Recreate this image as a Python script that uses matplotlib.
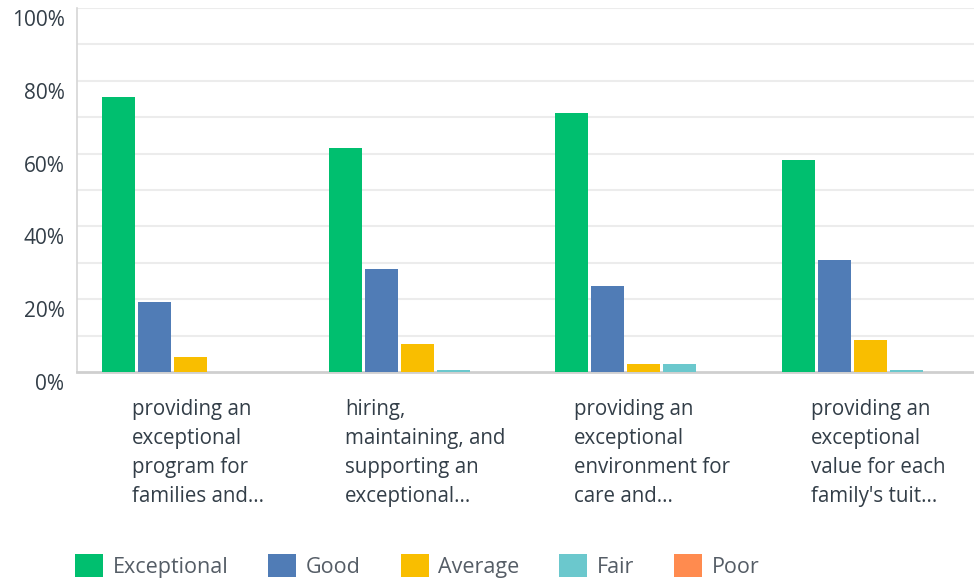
import numpy as np
import matplotlib
matplotlib.use("Agg")
import matplotlib.pyplot as plt
from matplotlib.patches import Patch
from matplotlib.transforms import ScaledTranslation

plt.rcParams['font.family'] = ['Open Sans', 'DejaVu Sans']

# ---- data (percent of responses) ----
questions = [
    "providing an\nexceptional\nprogram for\nfamilies and...",
    "hiring,\nmaintaining, and\nsupporting an\nexceptional...",
    "providing an\nexceptional\nenvironment for\ncare and...",
    "providing an\nexceptional\nvalue for each\nfamily's tuit...",
]
ratings = ["Exceptional", "Good", "Average", "Fair", "Poor"]
exceptional = [75.5, 61.5, 71.2, 58.2]
good = [19.2, 28.3, 23.6, 30.8]
average = [4.1, 7.7, 2.2, 8.8]
fair = [0.0, 0.5, 2.2, 0.5]
poor = [0.0, 0.0, 0.0, 0.0]

colors = ['#00bf6f', '#507cb6', '#f9be00', '#6bc8cd', '#ff8b4f']
series = [exceptional, good, average, fair, poor]

fig = plt.figure(figsize=(9.74, 5.82), dpi=100)
ax = fig.add_axes([77 / 974, 1 - 372 / 582, 1 - 77 / 974, 364 / 582])

band = 226.7  # pixels per category (plot runs off the right edge)
x = np.arange(len(questions))
step = 36 / band
width = 33 / band
for k, (vals, c) in enumerate(zip(series, colors)):
    ax.bar(x + (k - 2) * step, vals, width=width, color=c, zorder=3)

ax.set_xlim(-0.5, -0.5 + 897 / band)
ax.set_ylim(0, 100)

# grid every 10%, labels every 20%
for g in np.arange(10, 101, 10):
    ax.axhline(g, color='#ececec', lw=1.5, zorder=1)
ax.set_yticks(np.arange(0, 101, 20))
ax.set_yticklabels([f"{v}%" for v in range(0, 101, 20)])
ax.tick_params(axis='y', length=0, pad=9, labelsize=15, labelcolor='#333e48')
shift = ScaledTranslation(0, -10 / 100, fig.dpi_scale_trans)
for lab in ax.get_yticklabels():
    lab.set_transform(lab.get_transform() + shift)

ax.set_xticks([])
for s in ['top', 'right']:
    ax.spines[s].set_visible(False)
ax.spines['left'].set_color('#d6d6d6')
ax.spines['left'].set_linewidth(1.2)
ax.spines['bottom'].set_color('#cfcfcf')
ax.spines['bottom'].set_linewidth(2)

# category labels below the axis
for i, q in enumerate(questions):
    ax.text(i + 0.035, -7.4, q, ha='center', va='top', multialignment='left',
            fontsize=14.8, color='#333e48', linespacing=1.5,
            transform=ax.transData, clip_on=False)

handles = [Patch(facecolor=c, edgecolor='none') for c in colors]
leg = fig.legend(handles, ratings, loc='center left',
                 bbox_to_anchor=(75 / 974, 1 - 566 / 582), ncol=5,
                 frameon=False, fontsize=15.5, handlelength=1.3,
                 handleheight=1.3, handletextpad=0.45, columnspacing=1.85,
                 borderpad=0, borderaxespad=0, labelcolor='#555d66')

fig.savefig('out.png', dpi=100)
